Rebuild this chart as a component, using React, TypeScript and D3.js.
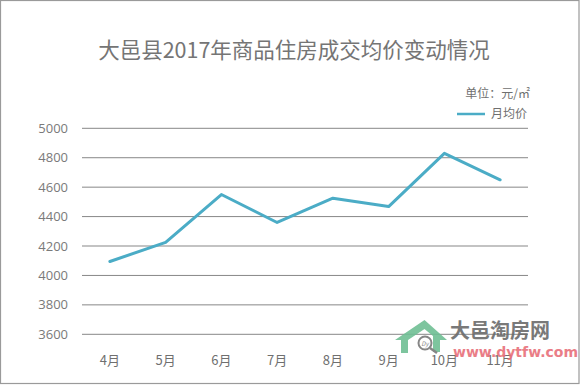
import React from "react";
import * as d3 from "d3";

const months = ["4月", "5月", "6月", "7月", "8月", "9月", "10月", "11月"];
const avgPrice = [4095, 4225, 4550, 4360, 4525, 4468, 4830, 4650];
const yTicks = [3600, 3800, 4000, 4200, 4400, 4600, 4800, 5000];
const title = "大邑县2017年商品住房成交均价变动情况";
const unitLabel = "单位：元/㎡";
const seriesName = "月均价";

const W = 580;
const H = 385;
const FONT = "'Noto Sans CJK SC', 'Microsoft YaHei', sans-serif";

export default function App() {
  const left = 82;
  const right = 528;
  const x = d3.scaleBand<string>().domain(months).range([left, right]).padding(0);
  const y = d3.scaleLinear().domain([3600, 5000]).range([334.3, 128.3]);
  const line = d3
    .line<number>()
    .x((_, i) => (x(months[i]) as number) + x.bandwidth() / 2)
    .y((d) => y(d));

  return (
    <svg
      width={W}
      height={H}
      style={{ position: "absolute", left: 0, top: 0, background: "#fff" }}
      fontFamily={FONT}
    >
      <rect x={0.5} y={0.5} width={W - 1.5} height={H - 2} fill="#fff" stroke="#9a9a9a" strokeWidth={1.2} />
      <text x={294} y={58} textAnchor="middle" fontSize={21.5} fill="#757575">
        {title}
      </text>
      <text x={530} y={97.5} textAnchor="end" fontSize={12} fill="#6f6f6f">
        {unitLabel}
      </text>
      <line x1={457} x2={485} y1={114} y2={114} stroke="#4bacc6" strokeWidth={2.5} />
      <text x={527} y={117.5} textAnchor="end" fontSize={12} fill="#6f6f6f">
        {seriesName}
      </text>
      {yTicks.map((t) => (
        <g key={t}>
          <line x1={left} x2={right} y1={y(t)} y2={y(t)} stroke="#878787" strokeWidth={1} />
          <text x={68} y={y(t) + 4.5} textAnchor="end" fontSize={13} fill="#7a7a7a" fontFamily="'Open Sans', sans-serif">
            {t}
          </text>
        </g>
      ))}
      {months.map((m) => (
        <text
          key={m}
          x={(x(m) as number) + x.bandwidth() / 2}
          y={365}
          textAnchor="middle"
          fontSize={13}
          fill="#6f6f6f"
        >
          {m}
        </text>
      ))}
      <path d={line(avgPrice) || ""} fill="none" stroke="#4bacc6" strokeWidth={3} strokeLinejoin="round" strokeLinecap="round" />
      {/* watermark */}
      <g opacity={0.9}>
        <path
          d="M395,340 L424.5,320 L447,340 L440,340 L440,352 L433,352 L433,336 L424.5,329 L408,340 L408,353 L401,353 L401,340 Z"
          fill="#6fbf94"
        />
        <circle cx={425} cy={343} r={6.5} fill="#fff" stroke="#7a7a7a" strokeWidth={2} />
        <line x1={430} y1={348} x2={437} y2={353} stroke="#7a7a7a" strokeWidth={2.5} />
        <text x={425} y={345.5} textAnchor="middle" fontSize={6} fill="#7a7a7a" fontStyle="italic">
          Dy
        </text>
        <text x={450} y={338} fontSize={20} fontWeight="bold" fill="#6b6b6b">
          大邑淘房网
        </text>
        <text x={453} y={357} fontSize={14} fontWeight="bold" fill="#e8707a" fontFamily="'DejaVu Sans', sans-serif">
          www.dytfw.com
        </text>
      </g>
    </svg>
  );
}
